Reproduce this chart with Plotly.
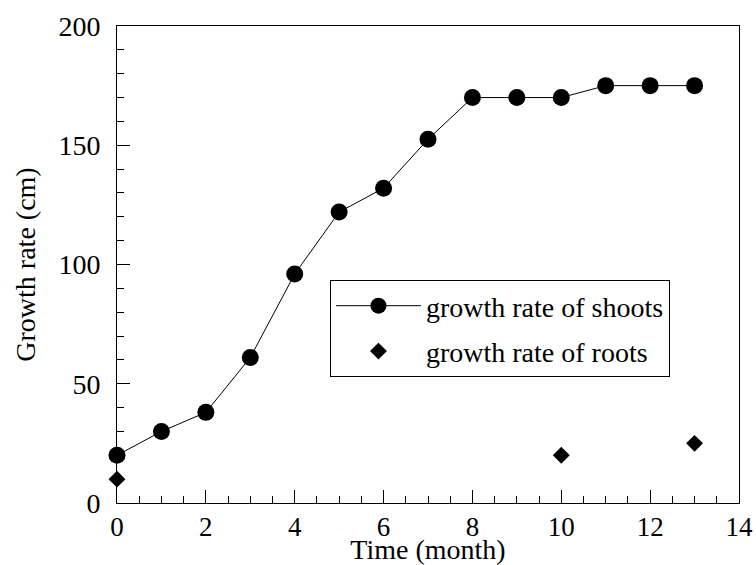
import plotly.graph_objects as go

months_shoots = [0, 1, 2, 3, 4, 5, 6, 7, 8, 9, 10, 11, 12, 13]
shoots = [20, 30, 38, 61, 96, 122, 132, 152.5, 170, 170, 170, 175, 175, 175]

months_roots = [0, 10, 13]
roots = [10, 20, 25]

font = dict(family="Liberation Serif, Times New Roman, serif", color="black")

fig = go.Figure()
fig.add_trace(
    go.Scatter(
        x=months_shoots,
        y=shoots,
        mode="lines+markers",
        name="growth rate of shoots",
        legendgroup="a",
        line=dict(color="black", width=1),
        marker=dict(symbol="circle", size=17, color="black"),
        cliponaxis=False,
    )
)
fig.add_trace(
    go.Scatter(
        x=months_roots,
        y=roots,
        mode="markers",
        name="growth rate of roots",
        legendgroup="b",
        marker=dict(symbol="diamond", size=13, color="black"),
        cliponaxis=False,
    )
)

axis_common = dict(
    automargin=False,
    showgrid=False,
    zeroline=False,
    showline=True,
    linecolor="black",
    linewidth=1,
    mirror=True,
    ticks="inside",
    ticklen=13,
    tickwidth=1,
    tickcolor="black",
)

fig.update_xaxes(
    range=[0, 14],
    dtick=2,
    minor=dict(dtick=0.5, ticks="inside", ticklen=7, tickcolor="black"),
    tickfont=dict(size=27, **font),
    title=dict(text="Time (month)", font=dict(size=28, **font), standoff=0),
    **axis_common,
)
fig.update_yaxes(
    range=[0, 200],
    dtick=50,
    minor=dict(dtick=10, ticks="inside", ticklen=7, tickcolor="black"),
    tickfont=dict(size=28, **font),
    ticklabelstandoff=10,
    title=dict(text="Growth rate (cm)", font=dict(size=28, **font), standoff=14),
    **axis_common,
)

fig.update_layout(
    width=756,
    height=565,
    margin=dict(l=117, r=17, t=26, b=62),
    plot_bgcolor="white",
    paper_bgcolor="white",
    font=font,
    legend=dict(
        x=0.3424,
        y=0.4675,
        xanchor="left",
        yanchor="top",
        bordercolor="black",
        borderwidth=1,
        bgcolor="white",
        font=dict(size=28, **font),
        itemwidth=85,
        tracegroupgap=6,
    ),
)

# drop the page's default body margin so the figure fills the window
fig.write_html(
    "out.html",
    config={"displayModeBar": False},
    post_script="document.body.style.margin='0';",
)
